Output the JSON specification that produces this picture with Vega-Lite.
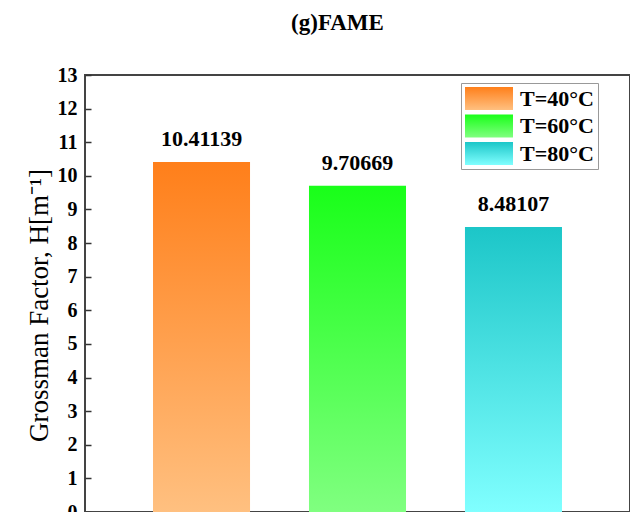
{
  "$schema": "https://vega.github.io/schema/vega-lite/v6.json",
  "width": 545,
  "height": 437,
  "autosize": {"type": "none"},
  "padding": {"left": 85, "top": 75, "right": 0, "bottom": 0},
  "background": "white",
  "config": {
    "view": {"stroke": "#444", "strokeWidth": 2},
    "font": "Liberation Serif"
  },
  "title": {
    "text": "(g)FAME",
    "font": "Liberation Serif",
    "fontSize": 23,
    "fontWeight": "bold",
    "color": "black",
    "anchor": "middle",
    "frame": "group",
    "dx": -20,
    "baseline": "alphabetic",
    "offset": 12
  },
  "data": {
    "values": [
      {"T": "T=40°C", "H": 10.41139},
      {"T": "T=60°C", "H": 9.70669},
      {"T": "T=80°C", "H": 8.48107}
    ]
  },
  "encoding": {
    "x": {
      "field": "T",
      "type": "nominal",
      "sort": null,
      "scale": {"paddingInner": 0.378, "paddingOuter": 0.436},
      "axis": null
    },
    "y": {
      "field": "H",
      "type": "quantitative",
      "scale": {"domain": [0, 13], "nice": false, "zero": true},
      "axis": {
        "values": [0, 1, 2, 3, 4, 5, 6, 7, 8, 9, 10, 11, 12, 13],
        "grid": false,
        "domain": false,
        "tickSize": -6,
        "tickWidth": 1.5,
        "tickColor": "#333",
        "labelPadding": 14,
        "labelFont": "Liberation Serif",
        "labelFontSize": 20,
        "labelFontWeight": "bold",
        "labelColor": "black",
        "title": "Grossman Factor, H[m⁻¹]",
        "titleFont": "Liberation Serif",
        "titleFontSize": 27,
        "titleFontWeight": "normal",
        "titleColor": "black",
        "titlePadding": 4,
        "titleY": 230
      }
    }
  },
  "layer": [
    {
      "mark": {"type": "bar", "strokeWidth": 0},
      "encoding": {
        "color": {
          "field": "T",
          "type": "nominal",
          "scale": {
            "domain": ["T=40°C", "T=60°C", "T=80°C"],
            "range": [
              {"expr": "{gradient: 'linear', x1: 0, y1: 0, x2: 0, y2: 1, stops: [{offset: 0, color: '#ff7f1a'}, {offset: 1, color: '#ffc080'}]}"},
              {"expr": "{gradient: 'linear', x1: 0, y1: 0, x2: 0, y2: 1, stops: [{offset: 0, color: '#19ff19'}, {offset: 1, color: '#80ff80'}]}"},
              {"expr": "{gradient: 'linear', x1: 0, y1: 0, x2: 0, y2: 1, stops: [{offset: 0, color: '#1cc6c8'}, {offset: 1, color: '#80ffff'}]}"}
            ]
          },
          "legend": {
            "orient": "none",
            "legendX": 376,
            "legendY": 8,
            "title": null,
            "padding": 4,
            "strokeColor": "#999",
            "fillColor": "white",
            "symbolType": "M-1,-1H3.174V1H-1Z",
            "symbolSize": 529,
            "symbolStrokeWidth": 0,
            "symbolOpacity": 1,
            "rowPadding": 4.5,
            "labelOffset": 32,
            "labelFont": "Liberation Serif",
            "labelFontSize": 22,
            "labelFontWeight": "bold",
            "labelColor": "black"
          }
        }
      }
    },
    {
      "mark": {
        "type": "text",
        "baseline": "alphabetic",
        "dy": -16,
        "font": "Liberation Serif",
        "fontSize": 22,
        "fontWeight": "bold",
        "color": "black"
      },
      "encoding": {
        "text": {"field": "H", "type": "quantitative", "format": ".5f"}
      }
    }
  ]
}
